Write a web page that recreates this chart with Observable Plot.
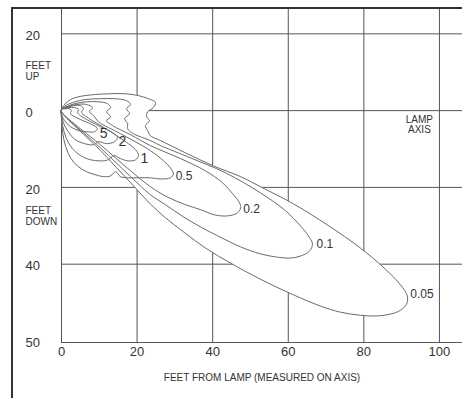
<!DOCTYPE html>
<html><head><meta charset="utf-8">
<script src="https://cdn.jsdelivr.net/npm/d3@7"></script>
<script src="https://cdn.jsdelivr.net/npm/@observablehq/plot@0.6"></script>
<style>
html,body{margin:0;padding:0;background:#fff;}
#wrap{position:relative;width:462px;height:398px;overflow:hidden;}
#wrap svg{position:absolute;left:0;top:0;}
#border{position:absolute;z-index:2;left:11px;top:7px;right:-4px;bottom:-4px;border-left:2px solid #333;border-top:2px solid #333;pointer-events:none;}
</style></head><body><div id="wrap"><div id="border"></div></div>
<script>
// Axis ticks (feet)
const xTicks = [0, 20, 40, 60, 80, 100];
const xTickLabels = ["0", "20", "40", "60", "80", "100"];
const yGrid = [20, 0, -20, -40];
const yTicks = [20, 0, -20, -40, -60];
const yTickLabels = ["20", "0", "20", "40", "50"];

// Isofootcandle contours (feet from lamp, feet up positive)
const levels = ["0.05", "0.1", "0.2", "0.5", "1", "2", "5"];
const c005x = [0,0.8,2.4,5.0,9.0,13.0,16.9,20.4,23.0,24.9,24.3,22.8,22.5,23.3,22.2,22.8,23.5,26.2,32.8,40.2,47.4,52.6,61.4,70.4,79.1,85.7,89.7,91.5,91.3,89.7,87.0,83.1,79.1,73.8,68.5,61.4,52.6,44.7,38.1,32.3,27.5,23.5,18.3,10.3,0];
const c005y = [0.3,1.6,2.9,3.7,4.2,4.4,4.4,3.9,3.1,2.1,0.8,-0.3,-1.6,-2.6,-3.9,-5.2,-6.5,-7.8,-11.0,-14.4,-17.2,-19.8,-24.3,-29.8,-35.8,-41.3,-45.4,-48.3,-50.4,-52.0,-53.0,-53.5,-53.3,-52.5,-50.9,-48.0,-43.9,-39.7,-35.8,-31.6,-27.9,-24.3,-18.8,-10.4,-0.3];
const c01x = [0,1.1,2.9,6.3,10.3,14.3,17.2,18.3,17.2,18.0,16.7,17.5,17.5,19.0,23.5,26.2,34.1,43.4,52.6,59.3,63.2,65.3,66.4,65.6,63.2,60.6,56.6,52.6,47.4,41.3,36.8,32.3,27.5,23.5,18.3,10.3,0];
const c01y = [0.3,1.3,2.1,2.9,3.1,3.1,2.6,1.6,0.5,-0.8,-2.1,-3.4,-4.7,-6.0,-7.8,-9.1,-12.3,-16.2,-21.4,-26.1,-30.0,-32.6,-34.7,-36.6,-37.9,-38.4,-38.1,-37.3,-35.5,-32.6,-30.3,-27.7,-24.5,-21.9,-17.2,-9.7,-0.3];
const c02x = [0,1.3,3.4,6.6,9.8,12.2,13.0,11.9,13.0,11.9,13.5,18.3,23.5,31.5,38.1,42.6,45.5,47.1,47.4,46.6,44.2,40.7,36.8,32.8,28.0,23.5,18.3,10.3,0];
const c02y = [0.3,1.0,1.8,2.3,2.3,1.8,0.8,-0.3,-1.6,-2.6,-3.9,-6.3,-9.1,-12.5,-15.7,-18.8,-21.9,-24.0,-25.3,-26.6,-27.4,-27.2,-25.8,-24.5,-22.5,-19.8,-15.7,-8.9,-0.3];
const c05x = [0,1.6,4.0,6.6,8.2,7.4,8.5,9.8,15.6,23.5,27.0,28.8,29.6,28.8,26.2,23.5,20.4,17.7,15.6,14.3,13.0,11.1,9.0,6.6,4.2,2.4,1.1,0.3,0];
const c05y = [0.3,1.0,1.6,1.6,0.8,-0.3,-1.3,-2.9,-6.0,-10.4,-13.1,-14.9,-16.5,-17.5,-17.8,-17.5,-17.5,-17.5,-17.2,-15.9,-17.0,-17.2,-16.7,-15.9,-14.4,-12.3,-9.4,-5.7,-2.1];
const c1x = [0,1.3,3.2,5.0,5.8,5.3,6.6,13.0,17.7,19.6,20.4,19.6,17.7,15.6,13.8,12.4,10.3,7.7,5.0,2.9,1.3,0.3,0];
const c1y = [0.3,0.8,1.3,1.3,0.5,-0.5,-1.6,-5.5,-8.6,-10.2,-11.7,-12.8,-13.1,-12.5,-11.7,-12.8,-13.1,-12.8,-11.7,-9.9,-7.3,-3.9,-1.3];
const c2x = [0,1.9,3.4,4.5,4.2,5.0,10.3,13.5,14.8,14.0,11.9,9.8,8.5,6.1,3.7,1.9,0.5,0];
const c2y = [0.3,0.8,0.8,0.3,-0.5,-1.3,-4.2,-5.7,-7.0,-8.1,-8.6,-8.1,-8.9,-8.6,-7.6,-5.7,-3.1,-1.0];
const c5x = [0,1.1,2.1,2.6,2.4,5.0,8.2,9.5,8.7,6.6,4.5,2.4,0.8,0];
const c5y = [0.3,0.5,0.5,0,-0.8,-2.3,-3.7,-4.7,-5.5,-5.5,-5.2,-4.2,-2.6,-0.8];

// Contour labels
const labelText = ["5", "2", "1", "0.5", "0.2", "0.1", "0.05"];
const labelX = [10.1, 15.1, 20.9, 30.2, 48.1, 67.5, 92.3];
const labelY = [-5.9, -8.0, -12.4, -17.0, -25.6, -34.7, -47.8];
const labelSize = [14, 14, 14, 12, 12, 12, 12];

// Annotations
const noteText = ["LAMP\nAXIS"];
const noteX = [94.7];
const noteY = [-3.65];
const sideText = ["FEET\nUP", "FEET\nDOWN"];
const sideY = [10.2, -27.4];
const xTitle = "FEET FROM LAMP (MEASURED ON AXIS)";

const xs = [c005x, c01x, c02x, c05x, c1x, c2x, c5x];
const ys = [c005y, c01y, c02y, c05y, c1y, c2y, c5y];
const rows = [];
levels.forEach((lv, k) => xs[k].forEach((x, i) => rows.push({level: lv, x, y: ys[k][i]})));

const ink = "#333";
const chart = Plot.plot({
  width: 462, height: 398,
  marginLeft: 61, marginRight: 0, marginTop: 8, marginBottom: 56,
  x: {domain: [0, 106.1], axis: null},
  y: {domain: [-60.4, 26.6], axis: null},
  style: {fontFamily: "'Liberation Sans', Arial, sans-serif", background: "white", color: ink},
  marks: [
    Plot.ruleX(xTicks, {stroke: "#555", strokeWidth: 1}),
    Plot.ruleY(yGrid, {stroke: "#555", strokeWidth: 1}),
    Plot.frame({anchor: "bottom", stroke: "#555", strokeWidth: 1}),
    Plot.line(rows, {x: "x", y: "y", z: "level", fill: "white", stroke: "none", curve: "catmull-rom-closed"}),
    Plot.line(rows, {x: "x", y: "y", z: "level", stroke: "#6a6a6a", strokeWidth: 1, curve: "catmull-rom-closed"}),
    Plot.text(labelText, {x: (d, i) => labelX[i], y: (d, i) => labelY[i], text: d => d, textAnchor: "start", fontSize: (d, i) => labelSize[i], fill: ink}),
    Plot.text(noteText, {x: (d, i) => noteX[i], y: (d, i) => noteY[i], text: d => d, fontSize: 10, lineHeight: 1.0, fill: ink}),
    Plot.text(xTickLabels, {x: (d, i) => xTicks[i], text: d => d, frameAnchor: "bottom", dy: 13, fontSize: 13, fill: ink}),
    Plot.text(yTickLabels, {y: (d, i) => yTicks[i], text: d => d, frameAnchor: "left", dx: -36, dy: 2, textAnchor: "start", fontSize: 13, fill: ink}),
    Plot.text(sideText, {y: (d, i) => sideY[i], text: d => d, frameAnchor: "left", dx: -36, textAnchor: "start", fontSize: 10, lineHeight: 1.1, fill: ink}),
    Plot.text([xTitle], {text: d => d, frameAnchor: "bottom", dy: 38, fontSize: 10, fill: ink})
  ]
});
document.getElementById("wrap").prepend(chart);
</script></body></html>
